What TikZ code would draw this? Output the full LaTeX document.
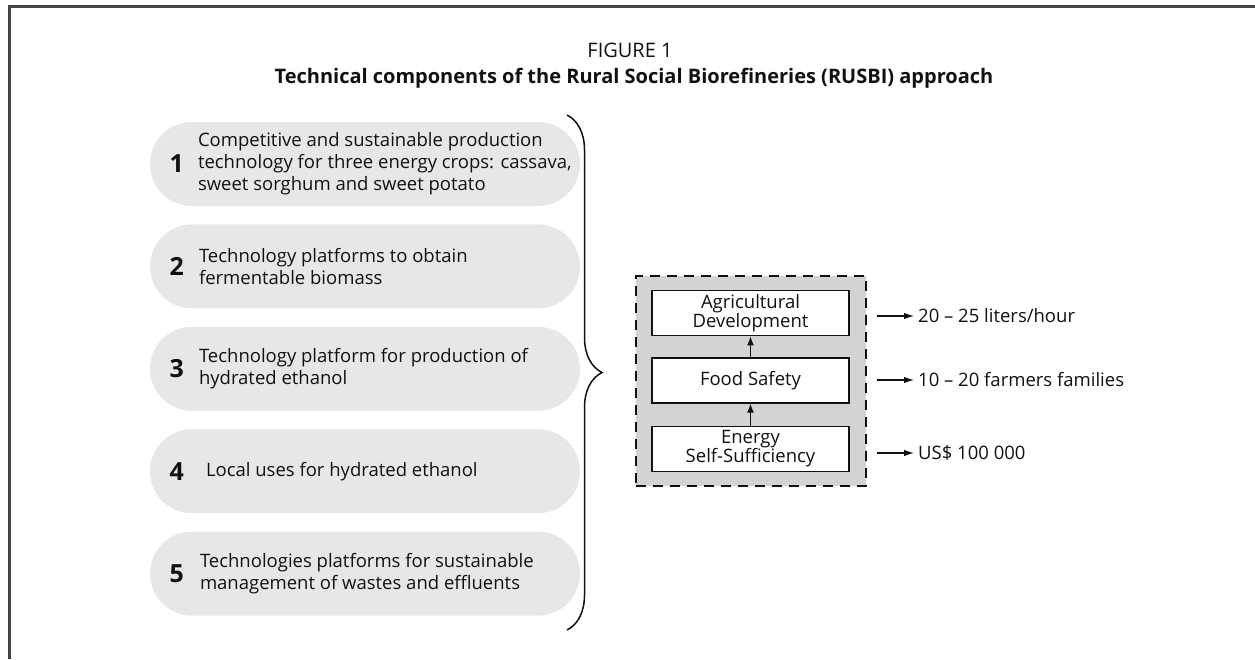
\documentclass[tikz,border=0pt]{standalone}
\usepackage{fontspec}
\setmainfont{Open Sans}
\definecolor{pillGray}{HTML}{E6E7E8}
\definecolor{stageGray}{HTML}{D1D3D4}
\definecolor{inkBlack}{HTML}{111111}
\definecolor{frameGray}{HTML}{454545}
\usetikzlibrary{positioning,decorations.pathreplacing,arrows.meta}

\begin{document}
\begin{tikzpicture}[x=1pt,y=-1pt,
                    pill/.style={fill=pillGray, rounded corners=41.9pt, minimum width=430pt,
                                 minimum height=84pt, inner sep=0pt},
                    num/.style={font=\fontsize{25}{25}\selectfont\bfseries, text=inkBlack, inner sep=0pt},
                    ptext/.style={font=\fontsize{18.5}{22}\selectfont, align=left, text=inkBlack,
                                  inner sep=0pt, anchor=west},
                    stagebox/.style={draw=inkBlack, fill=white, line width=1.2pt, minimum width=197pt,
                                     minimum height=45pt, inner sep=0pt, align=center,
                                     font=\fontsize{18.5}{19.5}\selectfont, text=inkBlack},
                    outlbl/.style={font=\fontsize{18.5}{22}\selectfont, text=inkBlack, anchor=west, inner sep=0pt},
                    uarr/.style={-{Latex[length=9pt,width=7pt]}, line width=1.2pt, draw=inkBlack},
                    rarr/.style={-{Latex[length=10pt,width=6.5pt]}, line width=1.2pt, draw=inkBlack},
                    node distance=18pt
                ]
                    \useasboundingbox (0,0) rectangle (1255,659);
                    \draw[line width=2.2pt, draw=frameGray] (9.5,659) -- (9.5,6.5) -- (1255,6.5);

                    % title
                    \node[font=\fontsize{20}{20}\selectfont, text=inkBlack] (fig) at (630,50) {FIGURE 1};
                    \node[font=\fontsize{20}{20}\selectfont\bfseries, text=inkBlack] (title) at (634,78)
                        {Technical components of the Rural Social Biorefineries (RUSBI) approach};

                    % technical components
                    \node[pill] (p1) at (365,164) {};
                    \node[pill, below=of p1] (p2) {};
                    \node[pill, below=of p2] (p3) {};
                    \node[pill, below=of p3] (p4) {};
                    \node[pill, below=of p4] (p5) {};
                    \foreach \i in {1,...,5}
                        \node[num] (n\i) at ([xshift=27pt]p\i.west) {\i};
                    \node[ptext] (t1) at ([xshift=48pt]p1.west) {Competitive and sustainable production\\technology for three energy crops: cassava,\\sweet sorghum and sweet potato};
                    \node[ptext] (t2) at ([xshift=49pt]p2.west) {Technology platforms to obtain\\fermentable biomass};
                    \node[ptext] (t3) at ([xshift=49pt]p3.west) {Technology platform for production of\\hydrated ethanol};
                    \node[ptext] (t4) at ([xshift=56pt]p4.west) {Local uses for hydrated ethanol};
                    \node[ptext] (t5) at ([xshift=50pt]p5.west) {Technologies platforms for sustainable\\management of wastes and effluents};

                    \coordinate (bt) at (567,115);
                    \coordinate (bb) at (567,630);
                    \draw[decorate, decoration={brace, amplitude=35pt}, line width=1.5pt, draw=inkBlack] (bt) -- (bb);

                    % RUSBI stages
                    \node[draw=inkBlack, line width=1.5pt, dash pattern=on 10pt off 7pt, fill=stageGray,
                          minimum width=230pt, minimum height=210pt] (stage) at (751,381) {};
                    \node[stagebox] (b2) at (750.5,380.5) {Food Safety};
                    \node[stagebox, above=21pt of b2] (b1) {Agricultural\\Development};
                    \node[stagebox, below=22pt of b2] (b3) {Energy\\Self-Sufficiency};
                    \draw[uarr] (b3) -- (b2);
                    \draw[uarr] (b2) -- (b1);

                    \node[outlbl] (l1) at (918,316) {20 -- 25 liters/hour};
                    \node[outlbl] (l2) at (918,380) {10 -- 20 farmers families};
                    \node[outlbl] (l3) at (918,453) {US\$ 100 000};
                    \foreach \i in {1,2,3}
                        \draw[rarr] ([xshift=10pt]stage.east |- l\i.west) -- ([xshift=-4pt]l\i.west);
                \end{tikzpicture}
\end{document}
